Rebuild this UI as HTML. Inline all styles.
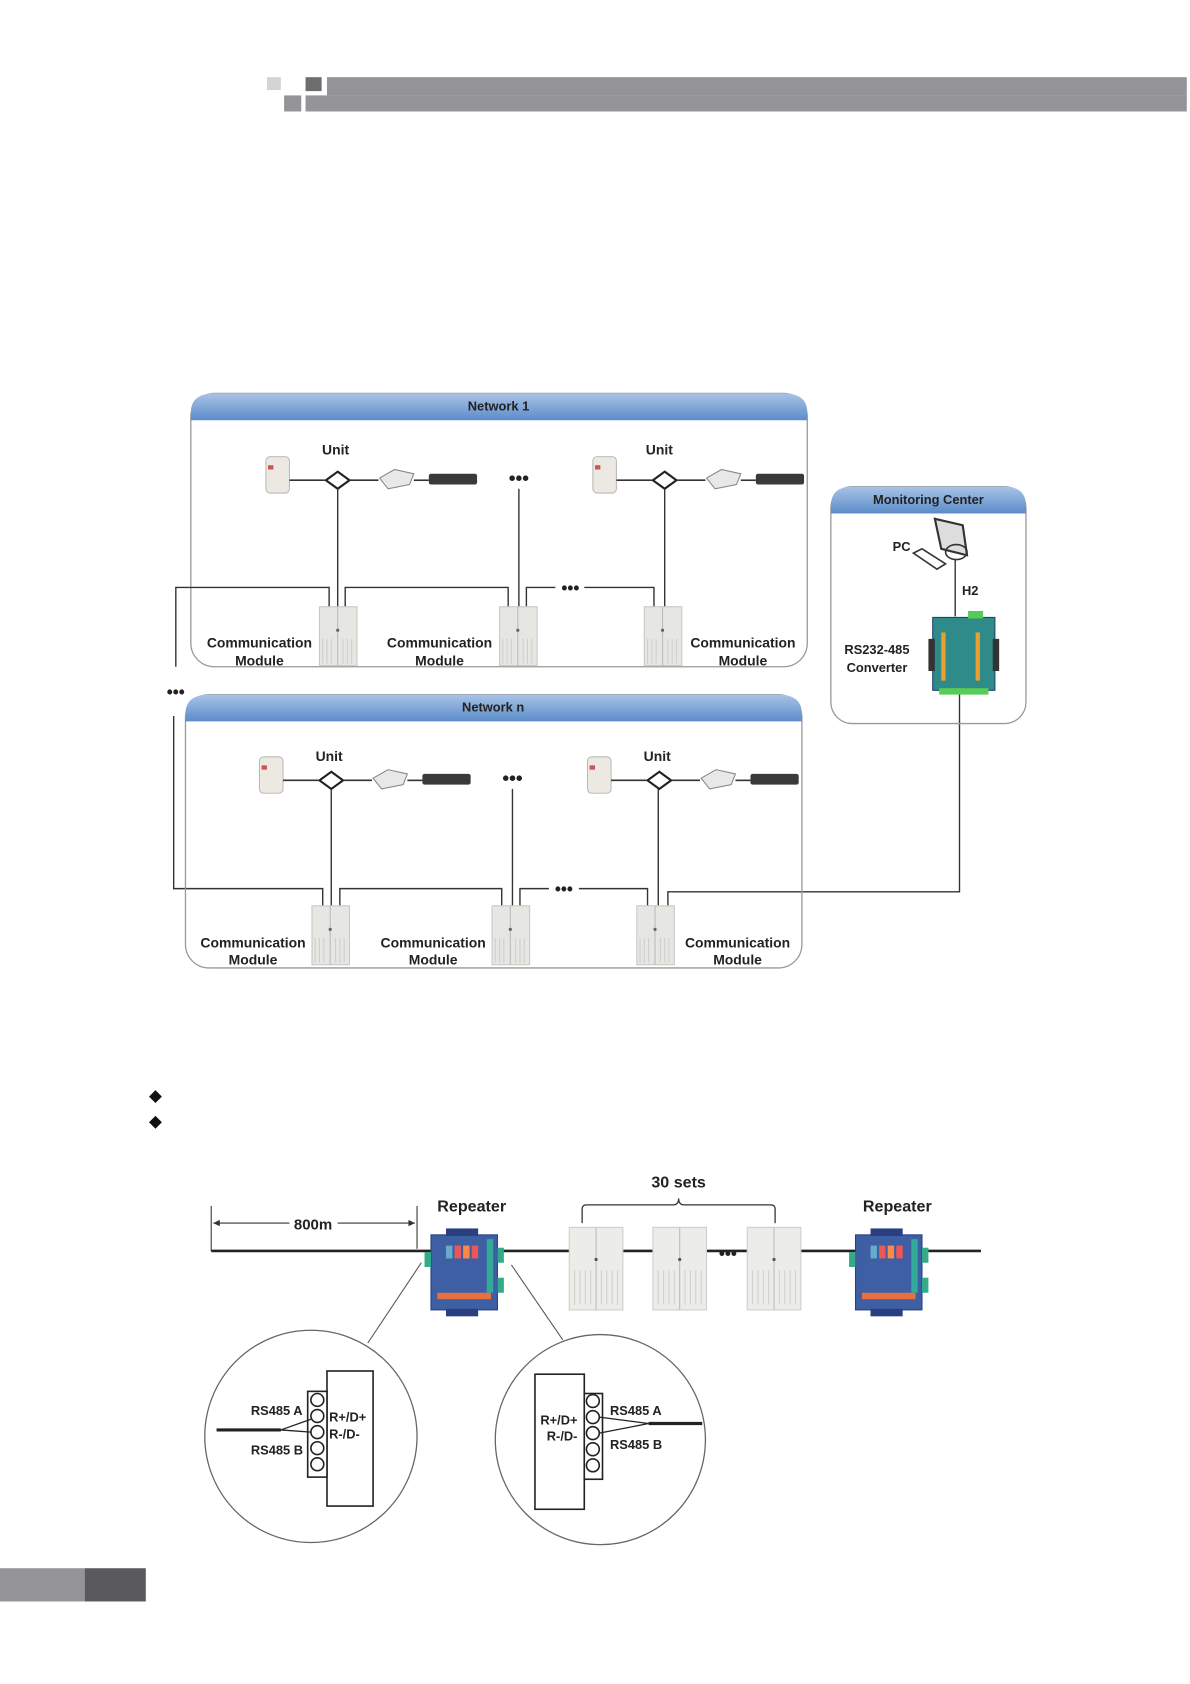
<!DOCTYPE html>
<html><head><meta charset="utf-8"><style>
html,body{margin:0;padding:0;background:#fff;}
svg{display:block;}
text{font-family:"Liberation Sans",sans-serif;font-weight:bold;fill:#222;}
</style></head><body>
<svg width="1190" height="1684" viewBox="0 0 1110 1571" preserveAspectRatio="none" xmlns="http://www.w3.org/2000/svg">
<defs>
<linearGradient id="hb" x1="0" y1="0" x2="0" y2="1"><stop offset="0" stop-color="#a9c3e6"/><stop offset="1" stop-color="#5b8cc9"/></linearGradient>
<g id="mod">
<rect x="0" y="0" width="35" height="55" fill="#e6e6e2" stroke="#c8c8c4"/>
<line x1="17" y1="0" x2="17" y2="55" stroke="#bbb"/>
<g stroke="#cfcfcb" stroke-width="1"><line x1="3" y1="30" x2="3" y2="53"/><line x1="7" y1="30" x2="7" y2="53"/><line x1="11" y1="30" x2="11" y2="53"/><line x1="22" y1="30" x2="22" y2="53"/><line x1="26" y1="30" x2="26" y2="53"/><line x1="30" y1="30" x2="30" y2="53"/></g>
<circle cx="17" cy="22" r="1.5" fill="#666"/>
</g>
<g id="unit">
<rect x="0" y="0" width="22" height="34" rx="4" fill="#ece8e2" stroke="#bbb"/>
<rect x="2" y="8" width="5" height="4" fill="#c55"/>
<line x1="22" y1="22" x2="55" y2="22" stroke="#333" stroke-width="1.5"/>
<path d="M67 14 L78 22 L67 30 L56 22 Z" fill="#fff" stroke="#222" stroke-width="2"/>
<line x1="78" y1="22" x2="105" y2="22" stroke="#333" stroke-width="1.5"/>
<path d="M106 20 L120 12 L138 16 L134 26 L114 30 Z" fill="#e8e8e8" stroke="#888"/>
<line x1="138" y1="22" x2="152" y2="22" stroke="#333" stroke-width="1.5"/>
<rect x="152" y="16" width="45" height="10" rx="2" fill="#3a3a3a"/>
</g>
<g id="rep">
<rect x="6" y="0" width="62" height="70" fill="#3f5fa5" stroke="#2a3f80"/>
<rect x="20" y="-6" width="30" height="7" fill="#2a3f80"/>
<rect x="20" y="69" width="30" height="7" fill="#2a3f80"/>
<rect x="20" y="10" width="6" height="12" fill="#6ac"/><rect x="28" y="10" width="6" height="12" fill="#e55"/><rect x="36" y="10" width="6" height="12" fill="#f84"/><rect x="44" y="10" width="6" height="12" fill="#e55"/>
<rect x="12" y="54" width="50" height="6" fill="#e87040"/>
<rect x="58" y="4" width="6" height="50" fill="#3a9"/>
<rect x="0" y="16" width="6" height="14" fill="#3a8"/>
<rect x="68" y="12" width="6" height="14" fill="#3a8"/>
<rect x="68" y="40" width="6" height="14" fill="#3a8"/>
</g>
<g id="bmod">
<rect x="0" y="0" width="50" height="77" fill="#ecece8" stroke="#cfcfca"/>
<line x1="25" y1="0" x2="25" y2="77" stroke="#bbb"/>
<g stroke="#d0d0cc"><line x1="5" y1="40" x2="5" y2="72"/><line x1="10" y1="40" x2="10" y2="72"/><line x1="15" y1="40" x2="15" y2="72"/><line x1="20" y1="40" x2="20" y2="72"/><line x1="30" y1="40" x2="30" y2="72"/><line x1="35" y1="40" x2="35" y2="72"/><line x1="40" y1="40" x2="40" y2="72"/><line x1="45" y1="40" x2="45" y2="72"/></g>
<circle cx="25" cy="30" r="1.5" fill="#555"/>
</g>
</defs>

<!-- header -->
<rect x="249" y="72" width="13" height="12" fill="#d4d4d4"/>
<rect x="285" y="72" width="15" height="13" fill="#6e6e70"/>
<rect x="265" y="89" width="16" height="15" fill="#949498"/>
<rect x="305" y="72" width="802" height="17" fill="#949498"/>
<rect x="285" y="89" width="822" height="15" fill="#949498"/>

<!-- Network 1 -->
<rect x="178" y="367" width="575" height="255" rx="22" fill="#fff" stroke="#999" stroke-width="1.2"/>
<path d="M178 392 L178 385 Q178 367 200 367 L731 367 Q753 367 753 385 L753 392 Z" fill="url(#hb)"/>
<text x="465" y="383" font-size="12" text-anchor="middle">Network 1</text>
<text x="313" y="424" font-size="13" text-anchor="middle">Unit</text>
<text x="615" y="424" font-size="13" text-anchor="middle">Unit</text>
<use href="#unit" x="248" y="426"/>
<use href="#unit" x="553" y="426"/>
<text x="484" y="452" font-size="18" text-anchor="middle">•••</text>
<g stroke="#333" stroke-width="1.3" fill="none">
<line x1="315" y1="456" x2="315" y2="566"/>
<line x1="484" y1="456" x2="484" y2="566"/>
<line x1="620" y1="456" x2="620" y2="566"/>
<polyline points="164,622 164,548 307,548 307,566"/>
<polyline points="322,566 322,548 474,548 474,566"/>
<polyline points="491,566 491,548 518,548"/>
<polyline points="545,548 610,548 610,566"/>
<polyline points="162,668 162,829 301,829 301,845"/>
<polyline points="317,845 317,829 468,829 468,845"/>
<polyline points="485,845 485,829 512,829"/>
<polyline points="540,829 604,829 604,845"/>
<polyline points="623,845 623,832 895,832 895,647"/>
<line x1="891" y1="522" x2="891" y2="575"/>
</g>
<text x="532" y="554" font-size="16" text-anchor="middle">•••</text>
<use href="#mod" x="298" y="566"/><use href="#mod" x="466" y="566"/><use href="#mod" x="601" y="566"/>
<g font-size="13" text-anchor="middle">
<text x="242" y="604">Communication</text><text x="242" y="621">Module</text>
<text x="410" y="604">Communication</text><text x="410" y="621">Module</text>
<text x="693" y="604">Communication</text><text x="693" y="621">Module</text>
</g>
<text x="164" y="651" font-size="16" text-anchor="middle">•••</text>

<!-- Network n -->
<rect x="173" y="648" width="575" height="255" rx="22" fill="none" stroke="#999" stroke-width="1.2"/>
<path d="M173 673 L173 666 Q173 648 195 648 L726 648 Q748 648 748 666 L748 673 Z" fill="url(#hb)"/>
<text x="460" y="664" font-size="12" text-anchor="middle">Network n</text>
<text x="307" y="710" font-size="13" text-anchor="middle">Unit</text>
<text x="613" y="710" font-size="13" text-anchor="middle">Unit</text>
<use href="#unit" x="242" y="706"/>
<use href="#unit" x="548" y="706"/>
<text x="478" y="732" font-size="18" text-anchor="middle">•••</text>
<g stroke="#333" stroke-width="1.3"><line x1="309" y1="736" x2="309" y2="845"/><line x1="478" y1="736" x2="478" y2="845"/><line x1="614" y1="736" x2="614" y2="845"/></g>
<text x="526" y="835" font-size="16" text-anchor="middle">•••</text>
<use href="#mod" x="291" y="845"/><use href="#mod" x="459" y="845"/><use href="#mod" x="594" y="845"/>
<g font-size="13" text-anchor="middle">
<text x="236" y="884">Communication</text><text x="236" y="900">Module</text>
<text x="404" y="884">Communication</text><text x="404" y="900">Module</text>
<text x="688" y="884">Communication</text><text x="688" y="900">Module</text>
</g>

<!-- Monitoring center -->
<rect x="775" y="454" width="182" height="221" rx="20" fill="none" stroke="#999" stroke-width="1.2"/>
<path d="M775 479 L775 472 Q775 454 795 454 L937 454 Q957 454 957 472 L957 479 Z" fill="url(#hb)"/>
<text x="866" y="470" font-size="12" text-anchor="middle">Monitoring Center</text>
<text x="841" y="514" font-size="12" text-anchor="middle">PC</text>
<path d="M872 484 L898 490 L902 518 L878 512 Z" fill="#ddd" stroke="#333" stroke-width="2"/>
<ellipse cx="892" cy="515" rx="10" ry="7" fill="none" stroke="#333" stroke-width="1.5"/>
<path d="M852 516 L860 512 L882 526 L874 531 Z" fill="#fff" stroke="#333" stroke-width="1.5"/>
<text x="905" y="555" font-size="12" text-anchor="middle">H2</text>
<rect x="870" y="576" width="58" height="68" fill="#2f8a8a" stroke="#246"/>
<rect x="866" y="596" width="6" height="30" fill="#333"/><rect x="926" y="596" width="6" height="30" fill="#333"/>
<rect x="878" y="590" width="4" height="45" fill="#e9a030"/><rect x="910" y="590" width="4" height="45" fill="#e9a030"/>
<rect x="876" y="642" width="46" height="6" fill="#5c5"/>
<rect x="903" y="570" width="14" height="7" fill="#5c5"/>
<text x="818" y="610" font-size="12" text-anchor="middle">RS232-485</text>
<text x="818" y="627" font-size="12" text-anchor="middle">Converter</text>

<!-- bullets -->
<path d="M145 1017 L151 1023 L145 1029 L139 1023 Z" fill="#111"/>
<path d="M145 1041 L151 1047 L145 1053 L139 1047 Z" fill="#111"/>

<!-- bottom diagram -->
<line x1="197" y1="1167" x2="915" y2="1167" stroke="#222" stroke-width="2.5"/>
<g stroke="#333" stroke-width="1"><line x1="197" y1="1125" x2="197" y2="1167"/><line x1="389" y1="1125" x2="389" y2="1165"/><line x1="199" y1="1141" x2="270" y2="1141"/><line x1="315" y1="1141" x2="387" y2="1141"/></g>
<path d="M199 1141 l6 -3 v6 Z M387 1141 l-6 -3 v6 Z" fill="#333"/>
<text x="292" y="1147" font-size="14" text-anchor="middle">800m</text>
<text x="440" y="1130" font-size="15" text-anchor="middle">Repeater</text>
<text x="837" y="1130" font-size="15" text-anchor="middle">Repeater</text>
<text x="633" y="1108" font-size="15" text-anchor="middle">30 sets</text>
<path d="M543 1141 V1128 Q543 1124 547 1124 L628 1124 Q633 1124 633 1118 Q633 1124 638 1124 L719 1124 Q723 1124 723 1128 V1141" fill="none" stroke="#333" stroke-width="1.2"/>
<use href="#rep" x="396" y="1152"/>
<use href="#rep" x="792" y="1152"/>
<use href="#bmod" x="531" y="1145"/><use href="#bmod" x="609" y="1145"/><use href="#bmod" x="697" y="1145"/>
<text x="679" y="1175" font-size="16" text-anchor="middle">•••</text>
<g stroke="#555" stroke-width="1"><line x1="393" y1="1178" x2="343" y2="1253"/><line x1="477" y1="1180" x2="525" y2="1250"/></g>
<circle cx="290" cy="1340" r="99" fill="#fff" stroke="#666" stroke-width="1.2"/>
<circle cx="560" cy="1343" r="98" fill="#fff" stroke="#666" stroke-width="1.2"/>
<!-- left detail -->
<rect x="305" y="1279" width="43" height="126" fill="#fff" stroke="#222" stroke-width="1.5"/>
<rect x="287" y="1298" width="18" height="80" fill="#fff" stroke="#222" stroke-width="1.5"/>
<g fill="#fff" stroke="#222" stroke-width="1.5"><circle cx="296" cy="1306" r="6"/><circle cx="296" cy="1321" r="6"/><circle cx="296" cy="1336" r="6"/><circle cx="296" cy="1351" r="6"/><circle cx="296" cy="1366" r="6"/></g>
<line x1="202" y1="1334" x2="262" y2="1334" stroke="#222" stroke-width="3"/>
<g stroke="#222" stroke-width="1.2"><line x1="262" y1="1334" x2="290" y2="1324"/><line x1="262" y1="1334" x2="290" y2="1336"/></g>
<g font-size="12"><text x="234" y="1320">RS485 A</text><text x="234" y="1357">RS485 B</text><text x="307" y="1326">R+/D+</text><text x="307" y="1342">R-/D-</text></g>
<!-- right detail -->
<rect x="499" y="1282" width="46" height="126" fill="#fff" stroke="#222" stroke-width="1.5"/>
<rect x="545" y="1300" width="17" height="80" fill="#fff" stroke="#222" stroke-width="1.5"/>
<g fill="#fff" stroke="#222" stroke-width="1.5"><circle cx="553" cy="1307" r="6"/><circle cx="553" cy="1322" r="6"/><circle cx="553" cy="1337" r="6"/><circle cx="553" cy="1352" r="6"/><circle cx="553" cy="1367" r="6"/></g>
<line x1="605" y1="1328" x2="655" y2="1328" stroke="#222" stroke-width="3"/>
<g stroke="#222" stroke-width="1.2"><line x1="605" y1="1328" x2="559" y2="1322"/><line x1="605" y1="1328" x2="559" y2="1337"/></g>
<g font-size="12"><text x="569" y="1320">RS485 A</text><text x="569" y="1352">RS485 B</text><text x="504" y="1329">R+/D+</text><text x="510" y="1344">R-/D-</text></g>

<!-- footer -->
<rect x="0" y="1463" width="79" height="31" fill="#949498"/>
<rect x="79" y="1463" width="57" height="31" fill="#5a5a5e"/>
</svg>
</body></html>
